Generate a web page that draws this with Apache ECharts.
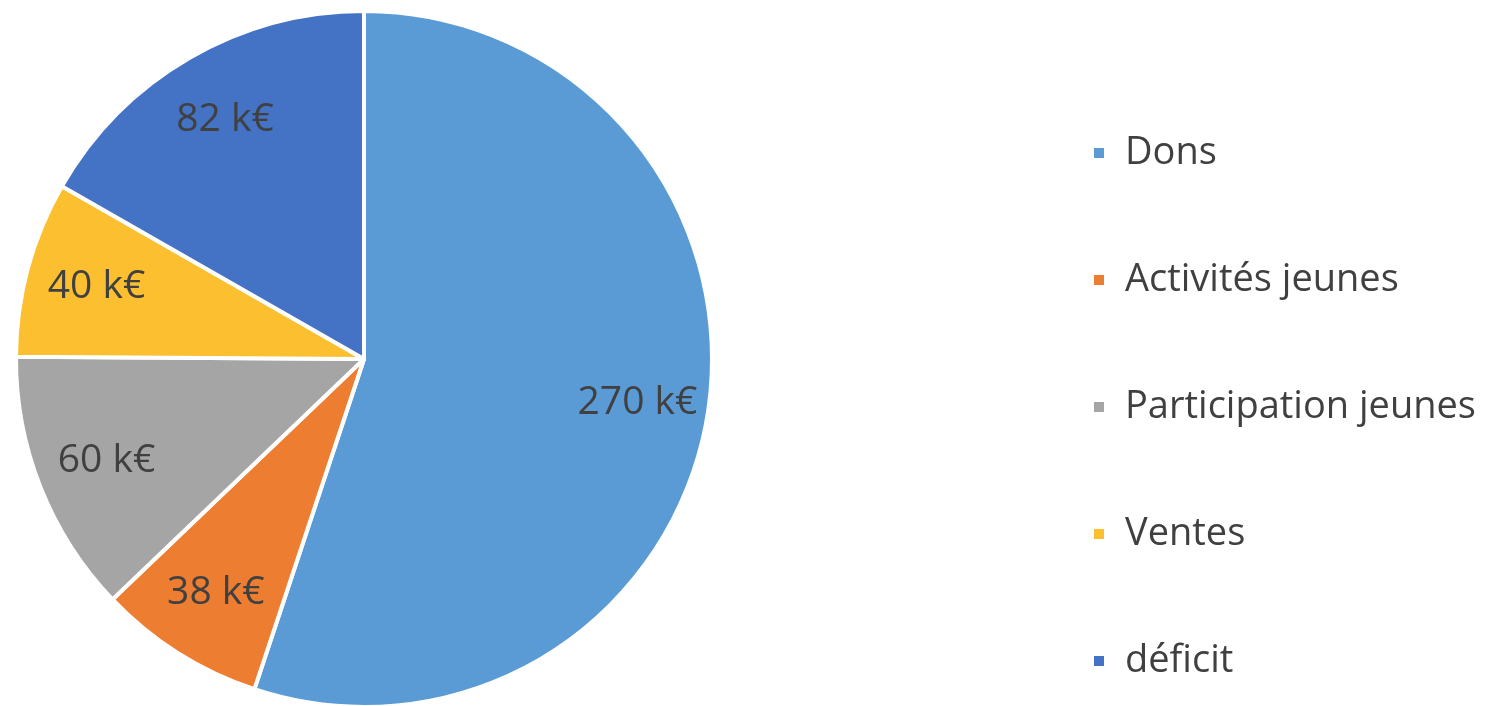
<!DOCTYPE html>
<html>
<head>
<meta charset="utf-8">
<script src="https://cdn.jsdelivr.net/npm/echarts@6/dist/echarts.min.js"></script>
<style>
  html, body { margin: 0; padding: 0; background: #fff; }
  #chart { width: 1491px; height: 706px; }
</style>
</head>
<body>
<div id="chart"></div>
<script>
  // data
  const categories = ['Dons', 'Activités jeunes', 'Participation jeunes', 'Ventes', 'déficit'];
  const values = [270, 38, 60, 40, 82];
  const colors = ['#5B9BD5', '#ED7D31', '#A5A5A5', '#FBBF2F', '#4472C4'];

  const pieData = categories.map((name, i) => ({ name: name, value: values[i] }));

  const chart = echarts.init(document.getElementById('chart'));
  chart.setOption({
    animation: false,
    color: colors,
    legend: {
      orient: 'vertical',
      left: 1087,
      top: 129,
      itemWidth: 12,
      itemHeight: 12,
      itemGap: 89,
      icon: 'rect',
      textStyle: { fontFamily: 'Open Sans', fontSize: 38, color: '#404040', padding: [0, 0, 0, 15] },
      data: categories
    },
    series: [{
      // visible slices
      type: 'pie',
      center: [364, 359],
      radius: [0, 348],
      startAngle: 90,
      clockwise: true,
      label: { show: false },
      labelLine: { show: false },
      itemStyle: { borderColor: '#fff', borderWidth: 4 },
      emphasis: { disabled: true },
      data: pieData
    }, {
      // transparent ring that only carries the value labels
      type: 'pie',
      center: [364, 359],
      radius: [200, 348],
      startAngle: 90,
      clockwise: true,
      silent: true,
      legendHoverLink: false,
      itemStyle: { color: 'transparent' },
      label: {
        show: true,
        position: 'inside',
        formatter: '{c} k€',
        fontFamily: 'Open Sans',
        fontSize: 39,
        color: '#404040'
      },
      labelLine: { show: false },
      emphasis: { disabled: true },
      data: pieData
    }]
  });
</script>
</body>
</html>
